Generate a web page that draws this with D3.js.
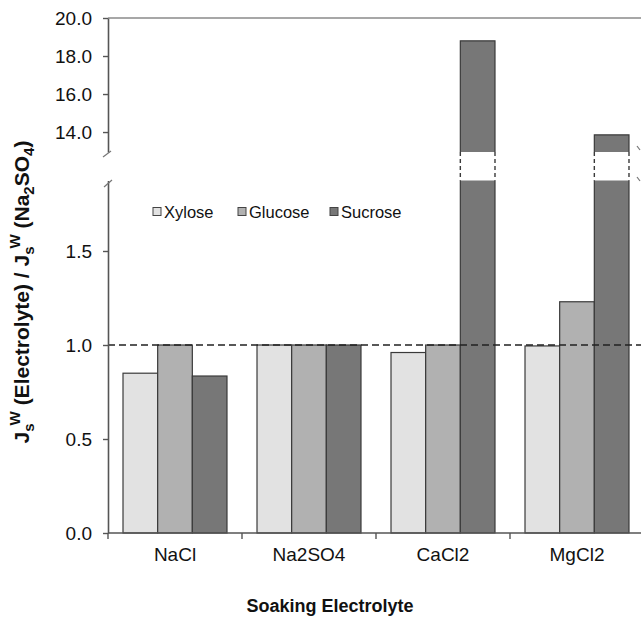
<!DOCTYPE html>
<html>
<head>
<meta charset="utf-8">
<script src="https://cdn.jsdelivr.net/npm/d3@7/dist/d3.min.js"></script>
<style>
  html, body { margin: 0; padding: 0; background: #fff; }
  svg { display: block; font-family: "Liberation Sans", Arial, Helvetica, sans-serif; }
</style>
</head>
<body>
<svg id="chart" width="641" height="617"></svg>
<script>
// ---- data ----
const categories = ["NaCl", "Na2SO4", "CaCl2", "MgCl2"];
const seriesNames = ["Xylose", "Glucose", "Sucrose"];
const xylose  = [0.85, 1.0, 0.96, 0.995];
const glucose = [1.0, 1.0, 1.0, 1.23];
const sucrose = [0.835, 1.0, 18.8, 13.85];
const upperTicks = [14, 16, 18, 20];
const lowerTicks = [0, 0.5, 1.0, 1.5];
const refValue = 1.0;
const seriesColors = ["#e2e2e2", "#b1b1b1", "#777777"];

const seriesValues = [xylose, glucose, sucrose];

const svg = d3.select("#chart");
const left = 108, right = 644;
const lowerMax = 1.875, upperMin = 12.95, upperMax = 20;

const x = d3.scaleBand().domain(categories).range([left, right])
  .paddingInner(0.224).paddingOuter(0.112);
const xs = d3.scaleBand().domain(seriesNames).range([0, x.bandwidth()]).padding(0);
const yU = d3.scaleLinear().domain([upperMin, upperMax]).range([152, 18]);
const yL = d3.scaleLinear().domain([0, lowerMax]).range([533, 180.5]);
const color = d3.scaleOrdinal().domain(seriesNames).range(seriesColors);

// top frame line
svg.append("line").attr("x1", left).attr("x2", 641).attr("y1", yU(upperMax)).attr("y2", yU(upperMax))
  .attr("stroke", "#8a8a8a").attr("stroke-width", 1.6);

// bars
const bars = [];
categories.forEach((c, ci) => {
  seriesNames.forEach((s, si) => {
    bars.push({ cat: c, ser: s, v: seriesValues[si][ci] });
  });
});
const gBars = svg.append("g");
const stroke = "#3a3a3a";
bars.forEach(d => {
  const x0 = x(d.cat) + xs(d.ser), w = xs.bandwidth();
  const g = gBars.append("g");
  if (d.v <= lowerMax) {
    g.append("rect").attr("x", x0).attr("y", yL(d.v)).attr("width", w).attr("height", yL(0) - yL(d.v))
      .attr("fill", color(d.ser)).attr("stroke", stroke).attr("stroke-width", 1.2);
  } else {
    const yTopL = yL(lowerMax), yBotU = yU(upperMin), yTopU = yU(d.v);
    g.append("rect").attr("x", x0).attr("y", yTopL).attr("width", w).attr("height", yL(0) - yTopL)
      .attr("fill", color(d.ser));
    g.append("path").attr("d", `M${x0},${yTopL}V${yL(0)}H${x0 + w}V${yTopL}`)
      .attr("fill", "none").attr("stroke", stroke).attr("stroke-width", 1.2);
    g.append("rect").attr("x", x0).attr("y", yTopU).attr("width", w).attr("height", yBotU - yTopU)
      .attr("fill", color(d.ser));
    g.append("path").attr("d", `M${x0},${yBotU}V${yTopU}H${x0 + w}V${yBotU}`)
      .attr("fill", "none").attr("stroke", stroke).attr("stroke-width", 1.2);
    [x0, x0 + w].forEach(xx => {
      g.append("line").attr("x1", xx).attr("x2", xx).attr("y1", yBotU).attr("y2", yTopL)
        .attr("stroke", stroke).attr("stroke-width", 1.4).attr("stroke-dasharray", "4,3");
    });
  }
});

// reference dashed line
svg.append("line").attr("x1", left).attr("x2", 641).attr("y1", yL(refValue)).attr("y2", yL(refValue))
  .attr("stroke", "#222").attr("stroke-width", 1.6).attr("stroke-dasharray", "7,4");

// y axes
const axisColor = "#555";
const fmt = d3.format(".1f");
const gU = svg.append("g").attr("transform", `translate(${left},0)`)
  .call(d3.axisLeft(yU).tickValues(upperTicks).tickFormat(fmt).tickSize(5).tickSizeOuter(0));
const gL = svg.append("g").attr("transform", `translate(${left},0)`)
  .call(d3.axisLeft(yL).tickValues(lowerTicks).tickFormat(fmt).tickSize(5).tickSizeOuter(0));
[gU, gL].forEach(g => {
  g.select(".domain").attr("stroke", axisColor).attr("stroke-width", 1.6);
  g.selectAll(".tick line").attr("stroke", axisColor).attr("stroke-width", 1.4);
  g.selectAll(".tick text").attr("fill", "#111").attr("font-size", 19).attr("x", -16)
    .attr("font-family", "'Liberation Sans', Arial, sans-serif");
});

// axis break marks
const brk = [[103, 157, 111, 151], [104, 187, 112, 180], [637, 146, 640, 150], [637, 177, 640, 181]];
brk.forEach(b => svg.append("line").attr("x1", b[0]).attr("y1", b[1]).attr("x2", b[2]).attr("y2", b[3])
  .attr("stroke", "#777").attr("stroke-width", 1.2));

// x axis
const gx = svg.append("g").attr("transform", `translate(0,${yL(0)})`)
  .call(d3.axisBottom(x).tickSize(0).tickSizeOuter(0));
gx.select(".domain").remove();
gx.selectAll(".tick text").attr("fill", "#111").attr("font-size", 19).attr("dy", "1.3em")
  .attr("font-family", "'Liberation Sans', Arial, sans-serif");
svg.append("line").attr("x1", left).attr("x2", 641).attr("y1", yL(0)).attr("y2", yL(0))
  .attr("stroke", axisColor).attr("stroke-width", 1.6);
const bounds = categories.map(c => x(c) - x.step() * x.paddingInner() / 2);
bounds.forEach(b => svg.append("line").attr("x1", b).attr("x2", b).attr("y1", yL(0)).attr("y2", yL(0) + 6)
  .attr("stroke", axisColor).attr("stroke-width", 1.4));

// legend
const legendX = [153, 238, 330];
const lg = svg.append("g");
seriesNames.forEach((s, i) => {
  lg.append("rect").attr("x", legendX[i]).attr("y", 207.5).attr("width", 8).attr("height", 8)
    .attr("fill", color(s)).attr("stroke", "#444").attr("stroke-width", 1);
  lg.append("text").attr("x", legendX[i] + 11).attr("y", 218).attr("font-size", 16.5)
    .attr("fill", "#111").text(s);
});

// axis titles
svg.append("text").attr("x", 330).attr("y", 612).attr("text-anchor", "middle")
  .attr("font-size", 18).attr("font-weight", "bold").attr("fill", "#111").text("Soaking Electrolyte");

const yt = svg.append("text").attr("transform", "translate(29,292) rotate(-90)")
  .attr("text-anchor", "middle").attr("font-size", 21).attr("font-weight", "bold").attr("fill", "#111");
yt.append("tspan").text("J");
yt.append("tspan").attr("font-size", 15).attr("dy", 5).text("s");
yt.append("tspan").attr("font-size", 15).attr("dy", -14).attr("dx", -2).text("W");
yt.append("tspan").attr("dy", 9).text(" (Electrolyte) / J");
yt.append("tspan").attr("font-size", 15).attr("dy", 5).text("s");
yt.append("tspan").attr("font-size", 15).attr("dy", -14).attr("dx", -2).text("W");
yt.append("tspan").attr("dy", 9).text(" (Na");
yt.append("tspan").attr("font-size", 15).attr("dy", 5).text("2");
yt.append("tspan").attr("dy", -5).text("SO");
yt.append("tspan").attr("font-size", 15).attr("dy", 5).text("4");
yt.append("tspan").attr("dy", -5).text(")");
</script>
</body>
</html>
